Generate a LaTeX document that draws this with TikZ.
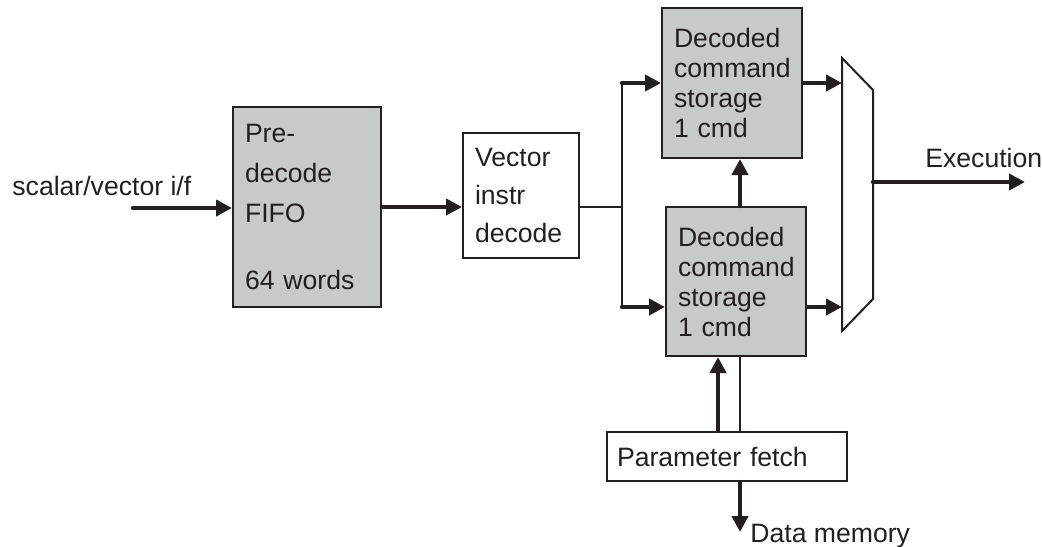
\documentclass[tikz,border=0pt]{standalone}
\usepackage{fontspec}
\setmainfont{Liberation Sans}
\usepackage{xcolor}
\usetikzlibrary{arrows.meta}
\definecolor{ink}{RGB}{35,31,32}
\definecolor{boxgray}{RGB}{200,201,203}

\begin{document}
\begin{tikzpicture}[x=0.5pt, y=-0.5pt, >={Triangle[length=8pt,width=8pt]},
  box/.style={draw=ink, line width=1pt, align=left, inner xsep=6pt, inner ysep=0pt,
    text=ink, font=\fontsize{13.3}{15}\selectfont},
  store/.style={box, fill=boxgray},
  thk/.style={draw=ink, line width=2.2pt, line cap=round},
  thn/.style={draw=ink, line width=0.8pt},
  lbl/.style={anchor=base west, inner sep=0pt, text=ink, font=\fontsize{13.3}{15}\selectfont}]
  \useasboundingbox (0,0) rectangle (1042,546);

  \node[store, text width=62pt, minimum height=100pt, font=\fontsize{13.3}{20}\selectfont]
    (fifo) at (307,207) {Pre-\\decode\\FIFO\\[13.5pt]64 words};
  \node[box, text width=46pt, minimum height=62.5pt, font=\fontsize{13.3}{19}\selectfont]
    (vec) at (521,195.5) {Vector\\instr\\decode};
  \node[store, text width=58pt, minimum height=75pt]
    (cmdA) at (732,83) {Decoded\\command\\storage\\1 cmd};
  \node[store, text width=58pt, minimum height=74.5pt]
    (cmdB) at (736,281.5) {Decoded\\command\\storage\\1 cmd};
  \node[box, inner xsep=5pt, text width=110pt, minimum height=24.5pt]
    (param) at (727,456.5) {Parameter fetch};

  % output mux
  \draw[ink, line width=1pt] (842,58) -- (873,90) -- (873,299) -- (842,331) -- cycle;
  \coordinate (muxA) at (842,83);
  \coordinate (muxB) at (842,307);
  \coordinate (muxout) at (873,182);

  \coordinate (in) at (133,208);
  \coordinate (split) at (622,207);
  \coordinate (exec) at (1025,182);
  \coordinate (mem) at (740,532);
  \coordinate (colA) at (718,0);
  \coordinate (colB) at (740,0);

  \node[lbl] (inlbl) at (12,195) {scalar/vector i/f};
  \node[lbl] (execlbl) at (925,167) {Execution};
  \node[lbl] (memlbl) at (750,542) {Data memory};

  \draw[thk,->] (in) -- (in -| fifo.west);
  \draw[thk,->] (fifo.east) -- (fifo.east -| vec.west);
  \draw[thn] (vec.east |- split) -- (split);
  \draw[thn] (split |- cmdA.west) -- (split |- muxB);
  \draw[thk,->] (split |- cmdA.west) -- (cmdA.west);
  \draw[thk,->] (split |- muxB) -- (muxB -| cmdB.west);
  \draw[thk,->] (cmdA.east) -- (muxA);
  \draw[thk,->] (muxB -| cmdB.east) -- (muxB);
  \draw[thk,->] (muxout) -- (exec);
  \draw[thk,->] (colB |- cmdB.north) -- (colB |- cmdA.south);
  \draw[thk,->] (colA |- param.north) -- (colA |- cmdB.south);
  \draw[ink, line width=1.4pt] (colB |- param.north) -- (colB |- cmdB.south);
  \draw[thk,->] (colB |- param.south) -- (mem);
\end{tikzpicture}
\end{document}
